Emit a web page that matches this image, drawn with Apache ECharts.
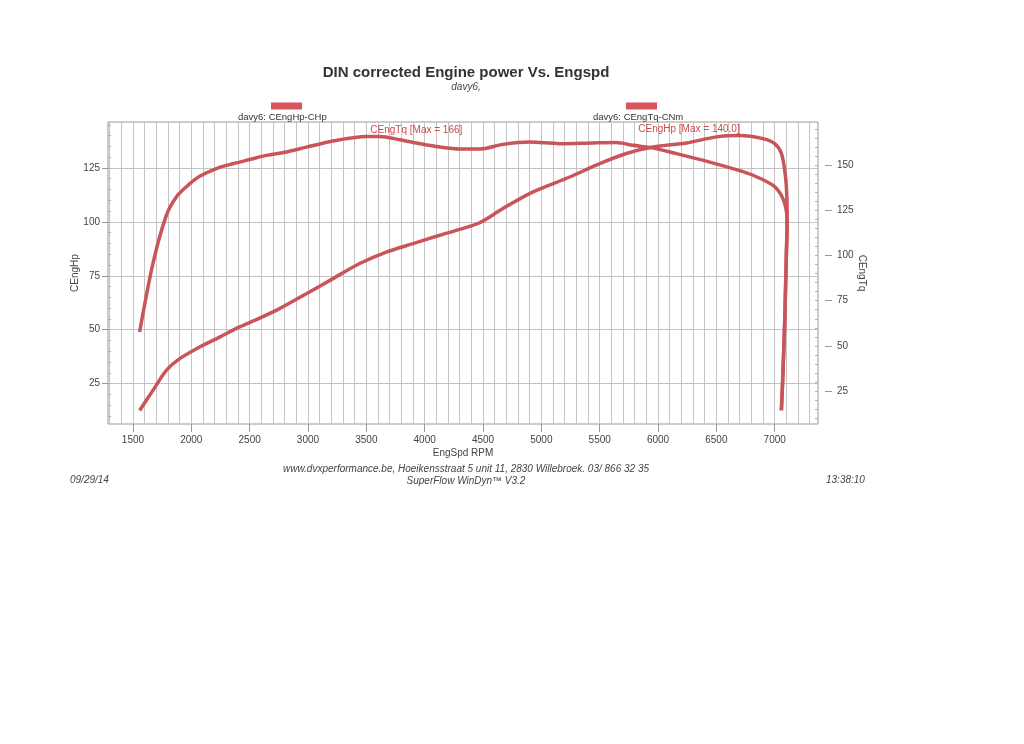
<!DOCTYPE html>
<html>
<head>
<meta charset="utf-8">
<script src="https://cdn.jsdelivr.net/npm/echarts@6/dist/echarts.min.js"></script>
<style>html,body{margin:0;padding:0;background:#fff}#c{width:1024px;height:744px}</style>
</head>
<body>
<div id="c"></div>
<script>
// ---- data ----
const rpmHp = [1557,1671,1786,1900,2072,2243,2414,2557,2757,2986,3214,3443,3671,3900,4129,4300,4472,4671,4929,5243,5500,5729,5957,6243,6500,6700,6900,7000,7057,7086,7100,7106,7106,7100,7086,7066,7057];
const hpVals = [12.6,21.9,31.2,36.6,42,46.6,51.3,54.7,59.8,66.7,73.7,80.7,86,89.9,93.8,96.5,99.6,106.2,113.9,120.8,127,131.7,134.7,136.6,139.4,140.0,138.6,136.3,131.8,123.9,116.2,107,96.4,85.4,54.4,23.4,12.6];
const rpmTq = [1557,1671,1786,1872,1971,2072,2215,2357,2500,2643,2815,2986,3214,3386,3500,3614,3786,3957,4129,4300,4472,4671,4900,5157,5443,5643,5786,5943,6157,6443,6671,6814,6986,7057,7094,7106,7100,7086,7066,7057];
const tqVals = [57.7,95.6,122.3,132.5,138.9,143.9,148.2,150.9,153.2,155.5,157.4,160.1,163.5,165.3,166,166,164.2,162,160.1,159,159,161.6,162.9,162,162.4,162.6,161.1,159.8,156.5,151.8,147.6,144.5,138.9,133.4,126.9,119.5,101.3,64.2,27.4,14.3];
const xTicks = [1500,2000,2500,3000,3500,4000,4500,5000,5500,6000,6500,7000];
const hpTicks = [25,50,75,100,125];
const tqTicks = [25,50,75,100,125,150];
const hpName = 'davy6: CEngHp-CHp';
const tqName = 'davy6: CEngTq-CNm';

const xMinor = []; for (let v = 1300; v <= 7300; v += 100) xMinor.push(v);
const hpMinor = []; for (let v = 10; v <= 145; v += 5) hpMinor.push(v);
const tqMinor = []; for (let v = 10; v <= 170; v += 5) tqMinor.push(v);

const FONT = 'Liberation Sans, Arial, sans-serif';
const RED = '#c9555b';
const X_MIN = 1286, X_MAX = 7371;
const HP_MIN = 6.3, HP_MAX = 146.3;
const TQ_MIN = 6.7, TQ_MAX = 174;
const plain = v => String(v);

const chart = echarts.init(document.getElementById('c'), null, {renderer: 'canvas'});

function legendFor(name, left) {
  return {
    data: [{name: name, icon: 'none'}],
    left: left, top: 100, padding: 0,
    itemWidth: 0, itemHeight: 0, itemGap: 0,
    selectedMode: false,
    formatter: n => '{s|}{b|}\n{t|' + n + '}',
    textStyle: {
      fontFamily: FONT, color: '#333',
      rich: {
        s: {width: 33, height: 8, lineHeight: 9},
        b: {width: 31, height: 7, lineHeight: 9, backgroundColor: '#d9545c'},
        t: {fontSize: 9.5, lineHeight: 14, color: '#333', fontFamily: FONT}
      }
    }
  };
}

const option = {
  backgroundColor: '#ffffff',
  animation: false,
  title: [
    {text: 'DIN corrected Engine power Vs. Engspd', left: 466, top: 65, textAlign: 'center', padding: 0,
     textStyle: {fontFamily: FONT, fontSize: 15, fontWeight: 'bold', color: '#333'}},
    {text: 'davy6,', left: 466, top: 82, textAlign: 'center', padding: 0,
     textStyle: {fontFamily: FONT, fontSize: 10, fontStyle: 'italic', fontWeight: 'normal', color: '#444'}},
    {text: 'www.dvxperformance.be, Hoeikensstraat 5 unit 11, 2830 Willebroek. 03/ 866 32 35', left: 466, top: 464, textAlign: 'center', padding: 0,
     textStyle: {fontFamily: FONT, fontSize: 10, fontStyle: 'italic', fontWeight: 'normal', color: '#444'}},
    {text: 'SuperFlow WinDyn™ V3.2', left: 466, top: 476, textAlign: 'center', padding: 0,
     textStyle: {fontFamily: FONT, fontSize: 10, fontStyle: 'italic', fontWeight: 'normal', color: '#444'}},
    {text: '09/29/14', left: 70, top: 475, padding: 0,
     textStyle: {fontFamily: FONT, fontSize: 10, fontStyle: 'italic', fontWeight: 'normal', color: '#444'}},
    {text: '13:38:10', left: 826, top: 475, padding: 0,
     textStyle: {fontFamily: FONT, fontSize: 10, fontStyle: 'italic', fontWeight: 'normal', color: '#444'}}
  ],
  legend: [legendFor(hpName, 233), legendFor(tqName, 588)],
  grid: {left: 108, right: 206, top: 122, bottom: 320, show: true, borderColor: '#999', borderWidth: 1, backgroundColor: 'transparent'},
  xAxis: [
    {type: 'value', min: X_MIN, max: X_MAX, position: 'bottom',
     name: 'EngSpd RPM', nameLocation: 'middle', nameGap: 24,
     nameTextStyle: {fontFamily: FONT, fontSize: 10, color: '#444'},
     axisLine: {show: false},
     axisTick: {show: true, length: 8, customValues: xTicks, lineStyle: {color: '#999'}},
     axisLabel: {customValues: xTicks, margin: 11, formatter: plain, fontFamily: FONT, fontSize: 10, color: '#444'},
     splitLine: {show: false}},
    {type: 'value', min: X_MIN, max: X_MAX, position: 'bottom',
     axisLine: {show: false}, axisLabel: {show: false},
     axisTick: {show: false, customValues: xMinor},
     splitLine: {show: true, lineStyle: {color: '#c4c4c4', width: 1}}}
  ],
  yAxis: [
    {type: 'value', min: HP_MIN, max: HP_MAX, position: 'left',
     name: 'CEngHp', nameLocation: 'middle', nameGap: 28, nameMoveOverlap: false,
     nameTextStyle: {fontFamily: FONT, fontSize: 10, color: '#444'},
     axisLine: {show: false},
     axisTick: {show: true, length: 6, customValues: hpTicks, lineStyle: {color: '#999'}},
     axisLabel: {customValues: hpTicks, margin: 8, formatter: plain, fontFamily: FONT, fontSize: 10, color: '#444'},
     splitLine: {show: true, lineStyle: {color: '#c4c4c4', width: 1}}},
    {type: 'value', min: TQ_MIN, max: TQ_MAX, position: 'right', offset: 7,
     name: 'CEngTq', nameLocation: 'middle', nameGap: 32, nameRotate: -90, nameMoveOverlap: false,
     nameTextStyle: {fontFamily: FONT, fontSize: 10, color: '#444'},
     axisLine: {show: false},
     axisTick: {show: true, length: 7, customValues: tqTicks, lineStyle: {color: '#999'}},
     axisLabel: {customValues: tqTicks, margin: 12, formatter: plain, fontFamily: FONT, fontSize: 10, color: '#444'},
     splitLine: {show: false}},
    {type: 'value', min: HP_MIN, max: HP_MAX, position: 'left',
     axisLine: {show: false}, axisLabel: {show: false}, splitLine: {show: false},
     axisTick: {show: true, inside: true, length: 3, customValues: hpMinor, lineStyle: {color: '#b0b0b0'}}},
    {type: 'value', min: TQ_MIN, max: TQ_MAX, position: 'right',
     axisLine: {show: false}, axisLabel: {show: false}, splitLine: {show: false},
     axisTick: {show: true, inside: true, length: 3, customValues: tqMinor, lineStyle: {color: '#b0b0b0'}}}
  ],
  series: [
    {name: hpName, type: 'line', xAxisIndex: 0, yAxisIndex: 0,
     data: rpmHp.map((r, i) => [r, hpVals[i]]),
     showSymbol: false, smooth: 0.3, color: RED,
     lineStyle: {color: RED, width: 3.5},
     markPoint: {symbol: 'circle', symbolSize: 1, itemStyle: {color: 'rgba(0,0,0,0)'},
       data: [{type: 'max', valueDim: 'y'}],
       label: {show: true, position: 'top', distance: 1, align: 'right', offset: [0, 0],
         formatter: p => 'CEngHp [Max = ' + p.value.toFixed(1) + ']',
         fontFamily: FONT, fontSize: 10, color: '#cc4a4a'}}},
    {name: tqName, type: 'line', xAxisIndex: 0, yAxisIndex: 1,
     data: rpmTq.map((r, i) => [r, tqVals[i]]),
     showSymbol: false, smooth: 0.3, color: RED,
     lineStyle: {color: RED, width: 3.5},
     markPoint: {symbol: 'circle', symbolSize: 1, itemStyle: {color: 'rgba(0,0,0,0)'},
       data: [{type: 'max', valueDim: 'y'}],
       label: {show: true, position: 'top', distance: 1, align: 'left', offset: [4, 0],
         formatter: p => 'CEngTq [Max = ' + Math.round(p.value) + ']',
         fontFamily: FONT, fontSize: 10, color: '#cc4a4a'}}}
  ]
};
chart.setOption(option);
</script>
</body>
</html>
